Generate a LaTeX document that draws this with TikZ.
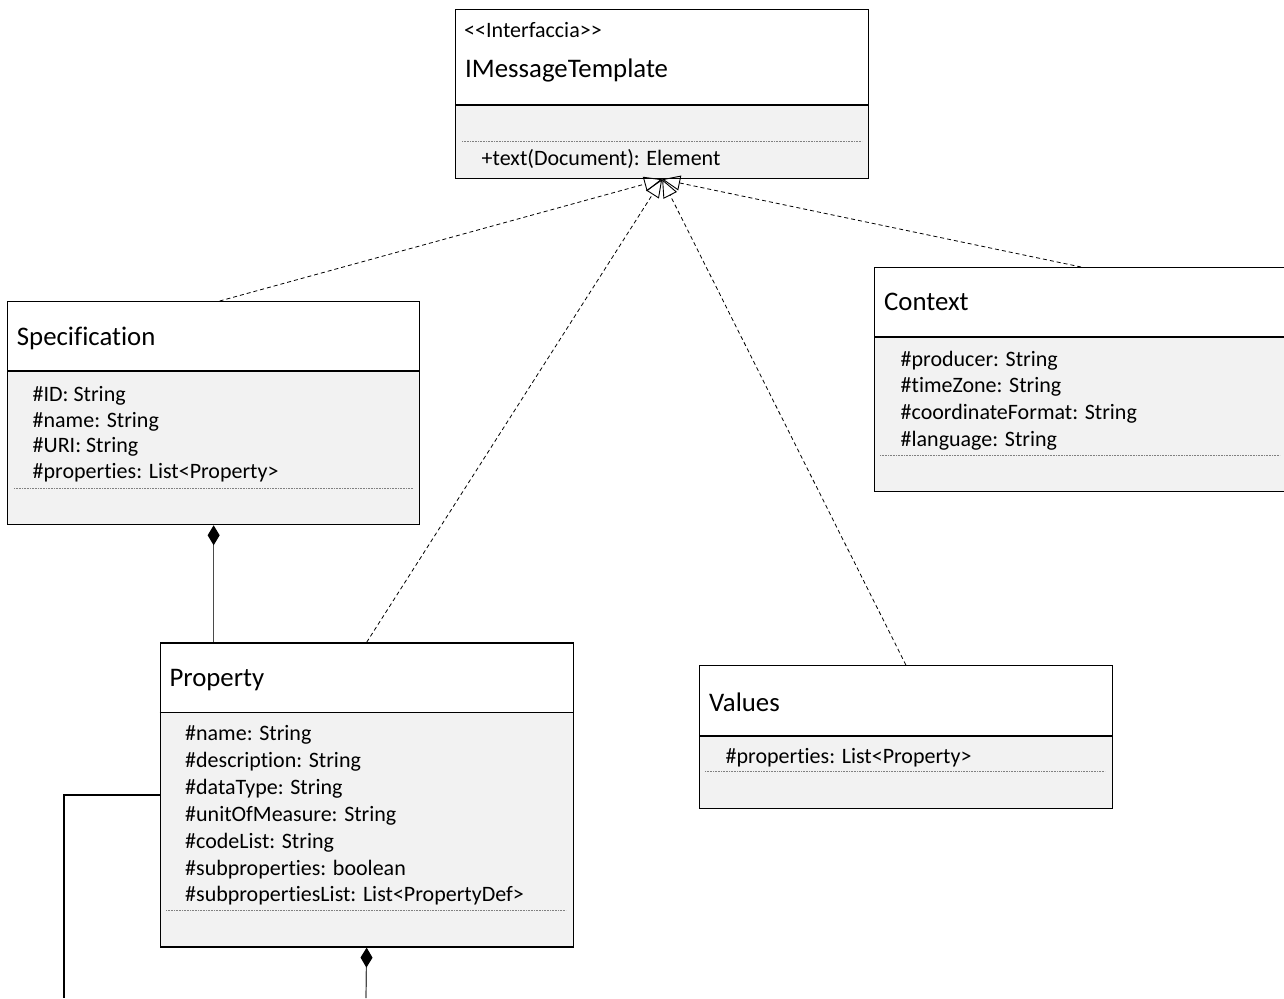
\documentclass[tikz,border=0pt]{standalone}
\usepackage{fontspec}
\setmainfont[Ligatures={NoCommon,NoContextual}]{Carlito}
\usetikzlibrary{arrows.meta}
\definecolor{compfill}{HTML}{F2F2F2}
\definecolor{linkgray}{HTML}{4A4A4A}
\begin{document}
\begin{tikzpicture}[x=1pt,y=-1pt,
  classbox/.style={draw=black, line width=1.3pt, inner sep=0pt, anchor=north west},
  divider/.style={draw=black, line width=1.3pt},
  dotsep/.style={draw=gray, line width=0.7pt, dash pattern=on 0.8pt off 0.8pt},
  ttl/.style={anchor=base west, inner sep=0pt, font=\fontsize{26.8}{30}\selectfont},
  attr/.style={anchor=base west, inner sep=0pt, font=\fontsize{22}{25}\selectfont},
  realize/.style={draw=black, line width=0.8pt, dash pattern=on 4pt off 3pt,
    -{Triangle[open, length=18pt, width=15pt, line width=0.9pt]}},
  compose/.style={draw=linkgray, line width=1.2pt,
    {Diamond[length=20pt, width=12pt, color=black, fill=black]}-},
  assoc/.style={draw=black, line width=1.2pt}]
\useasboundingbox (0,0) rectangle (1284,998);

% ---------- IMessageTemplate (interface) ----------
\fill[compfill] (455,105) rectangle (868,178);
\node[classbox, minimum width=413pt, minimum height=169pt] (iface) at (455,9) {};
\draw[divider] (455,105) -- (868,105);
\draw[dotsep] (462,141) -- (862,141);
\node[attr] (ifaceStereo) at (464,37.3) {<{}<Interfaccia>{}>};
\node[ttl] (ifaceName) at (465,77.3) {IMessageTemplate};
\node[attr] (ifaceOp) at (481.5,165.7) {+text(Document): Element};

% ---------- Specification ----------
\fill[compfill] (7,371) rectangle (419,524);
\node[classbox, minimum width=412pt, minimum height=223pt] (spec) at (7,301) {};
\draw[divider] (7,371) -- (419,371);
\draw[dotsep] (14,488.5) -- (413,488.5);
\node[ttl] (specName) at (16.7,345) {Specification};
\node[attr] (specA1) at (32.5,401) {\#ID: String};
\node[attr] (specA2) at (32.5,427) {\#name: String};
\node[attr] (specA3) at (32.5,452.5) {\#URI: String};
\node[attr] (specA4) at (32.5,478.5) {\#properties: List<Property>};

% ---------- Context ----------
\fill[compfill] (874,337) rectangle (1290,491);
\node[classbox, minimum width=413pt, minimum height=224pt] (context) at (874,267) {};
\draw[divider] (874,337) -- (1290,337);
\draw[dotsep] (880,455) -- (1280,455);
\node[ttl] (contextName) at (884,310) {Context};
\node[attr] (ctxA1) at (900.5,366) {\#producer: String};
\node[attr] (ctxA2) at (900.5,392.7) {\#timeZone: String};
\node[attr] (ctxA3) at (900.5,419.3) {\#coordinateFormat: String};
\node[attr] (ctxA4) at (900.5,446) {\#language: String};

% ---------- Property ----------
\fill[compfill] (159.5,712.7) rectangle (572.5,946);
\node[classbox, minimum width=413pt, minimum height=304pt] (prop) at (159.5,642.3) {};
\draw[divider] (159.5,712.7) -- (572.5,712.7);
\draw[dotsep] (166,910) -- (566,910);
\node[ttl] (propName) at (169.3,686.7) {Property};
\node[attr] (propA1) at (185,740) {\#name: String};
\node[attr] (propA2) at (185,767.3) {\#description: String};
\node[attr] (propA3) at (185,794) {\#dataType: String};
\node[attr] (propA4) at (185,821) {\#unitOfMeasure: String};
\node[attr] (propA5) at (185,848) {\#codeList: String};
\node[attr] (propA6) at (185,875) {\#subproperties: boolean};
\node[attr] (propA7) at (185,901.7) {\#subpropertiesList: List<PropertyDef>};

% ---------- Values ----------
\fill[compfill] (699,736) rectangle (1111.5,808);
\node[classbox, minimum width=412.5pt, minimum height=143pt] (values) at (699,665) {};
\draw[divider] (699,736) -- (1111.5,736);
\draw[dotsep] (705,771.7) -- (1105,771.7);
\node[ttl] (valuesName) at (709,711) {Values};
\node[attr] (valA1) at (725.5,763) {\#properties: List<Property>};

% ---------- realizations of the interface ----------
\draw[realize] ([xshift=6pt]spec.north) -- (iface.south);
\draw[realize] (prop.north) -- (iface.south);
\draw[realize] (values.north) -- (iface.south);
\draw[realize] (context.north) -- (iface.south);

% ---------- compositions ----------
\coordinate (propOut) at (366,998);
\draw[compose] (spec.south) -- (spec.south |- prop.north);
\draw[compose] (prop.south) -- (propOut);

% ---------- association leaving the page ----------
\coordinate (assocOut) at (64,998);
\draw[assoc] (prop.west) -- (assocOut |- prop.west) -- (assocOut);
\end{tikzpicture}
\end{document}
